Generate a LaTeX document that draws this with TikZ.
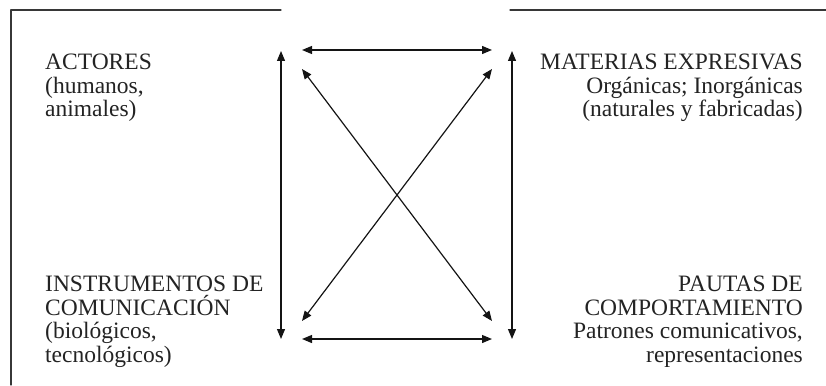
\documentclass[tikz,border=0pt]{standalone}
\usepackage{fontspec}
\setmainfont{Liberation Serif}
\usetikzlibrary{positioning,arrows.meta}

\begin{document}
\begin{tikzpicture}[
    x=1pt, y=-1pt,
    font=\fontsize{23.5}{23.6}\selectfont,
    >={Triangle[length=10pt,width=8pt]},
    line join=round,
    line cap=round
]

% ========= Colors =========
\definecolor{framegray}{RGB}{55,55,55}
\definecolor{textgray}{RGB}{35,35,35}
\definecolor{linkgray}{RGB}{20,20,20}

% ========= Styles =========
\tikzset{
    frameline/.style={draw=framegray, line width=1.3pt},
    leftlabel/.style={anchor=north west, align=left, inner sep=0pt, text=textgray},
    rightlabel/.style={anchor=north east, align=right, inner sep=0pt, text=textgray},
    link/.style={<->, draw=linkgray, line width=1.2pt}
}

\useasboundingbox (0,0) rectangle (826,385);

% ========= Frame (open at the top middle) =========
\draw[frameline] (11,385) -- (11,10) -- (281,10);
\draw[frameline] (510,10) -- (826,10);

% ========= Corner texts =========
\node[leftlabel] (actores) at (45,54) {ACTORES\\(humanos,\\animales)};
\node[rightlabel] (materias) at (803,54) {MATERIAS EXPRESIVAS\\Orgánicas; Inorgánicas\\(naturales y fabricadas)};
\node[leftlabel] (instrumentos) at (45,276) {INSTRUMENTOS DE\\COMUNICACIÓN\\(biológicos,\\tecnológicos)};
\node[rightlabel] (pautas) at (803,276) {PAUTAS DE\\COMPORTAMIENTO\\Patrones comunicativos,\\representaciones};

% ========= Arrow ends =========
\coordinate (vlt) at (281,51);
\coordinate (vlb) at (281,339);
\coordinate (vrt) at (512,51);
\coordinate (vrb) at (512,339);
\coordinate (htl) at (302,50);
\coordinate (htr) at (492,50);
\coordinate (hbl) at (302,339);
\coordinate (hbr) at (492,339);
\coordinate (dtl) at (302,69);
\coordinate (dtr) at (492,69);
\coordinate (dbl) at (302,321);
\coordinate (dbr) at (492,321);

% ========= Arrows =========
\foreach \a/\b in {vlt/vlb, vrt/vrb, htl/htr, hbl/hbr, dtl/dbr, dtr/dbl}
{
    \draw[link] (\a) -- (\b);
}

\end{tikzpicture}
\end{document}
